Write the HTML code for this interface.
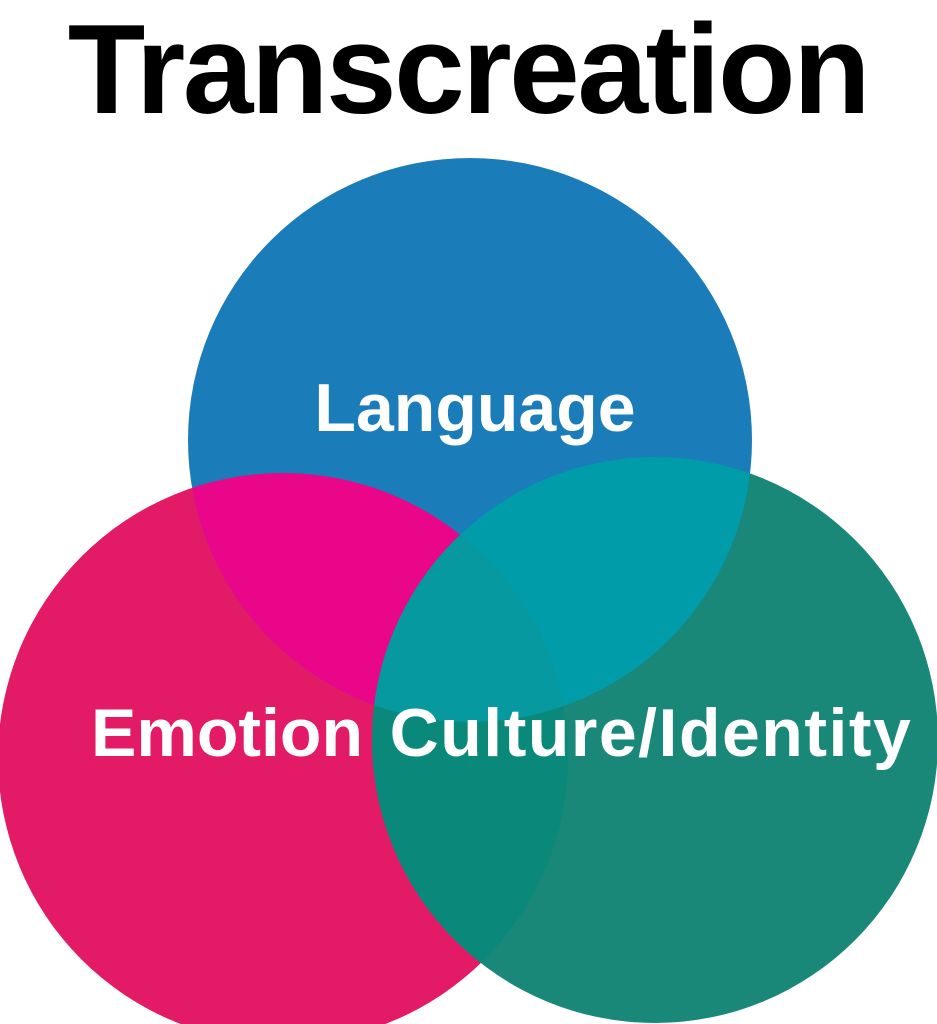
<!DOCTYPE html>
<html><head><style>
html,body{margin:0;padding:0;background:#fff;width:937px;height:1024px;overflow:hidden}
svg{display:block}
text{font-family:"Liberation Sans",sans-serif;font-weight:bold}
</style></head><body>
<svg width="937" height="1024" viewBox="0 0 937 1024">
<defs>
<clipPath id="cb"><circle cx="470" cy="440" r="282"/></clipPath>
<clipPath id="cp"><circle cx="283" cy="758" r="285"/></clipPath>
</defs>
<text x="468" y="113" text-anchor="middle" font-size="127" letter-spacing="-2.5" fill="#000">Transcreation</text>
<circle cx="283" cy="758" r="285" fill="#e31a66"/>
<circle cx="655" cy="740" r="283" fill="#1a8878"/>
<circle cx="470" cy="440" r="282" fill="#1a7cb8"/>
<g clip-path="url(#cp)"><circle cx="470" cy="440" r="282" fill="#ea0689"/></g>
<g clip-path="url(#cb)"><circle cx="655" cy="740" r="283" fill="#019ca9"/></g>
<g clip-path="url(#cp)"><circle cx="655" cy="740" r="283" fill="#0a897a"/></g>
<g clip-path="url(#cp)"><g clip-path="url(#cb)"><circle cx="655" cy="740" r="283" fill="#06999f"/></g></g>
<text x="475" y="431" text-anchor="middle" font-size="68" fill="#fff">Language</text>
<text x="227" y="756" text-anchor="middle" font-size="68" fill="#fff">Emotion</text>
<text x="651" y="756" text-anchor="middle" font-size="68" fill="#fff" letter-spacing="1.5">Culture/Identity</text>
</svg>
</body></html>
